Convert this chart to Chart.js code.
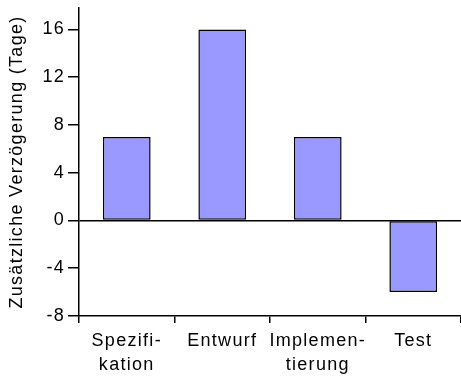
<!DOCTYPE html>
<html>
<head>
<meta charset="utf-8">
<script src="https://cdn.jsdelivr.net/npm/chart.js@4"></script>
<style>
  html, body { margin: 0; padding: 0; background: #fff; }
  canvas { display: block; }
</style>
</head>
<body>
<canvas id="chart" width="461" height="376"></canvas>
<script>
// Data
const phases = [['Spezifi-', 'kation'], 'Entwurf', ['Implemen-', 'tierung'], 'Test']
const delays = [7, 16, 7, -6]
const yMin = -8
const yMax = 17.8
const yStep = 4
const yTitle = 'Zusätzliche Verzögerung (Tage)'

const FONT = { family: '"Liberation Sans", Arial, sans-serif', size: 18 }
const SPACING = '1.3px'

// the reference text is rendered with wide letter spacing
const spacingPlugin = {
  id: 'spacing',
  beforeUpdate(chart) { chart.ctx.letterSpacing = SPACING },
  beforeDraw(chart) { chart.ctx.letterSpacing = SPACING },
}

let ctx = document.getElementById('chart').getContext('2d')

let chart = new Chart(ctx, {
  type: 'bar',
  data: {
    labels: phases,
    datasets: [{
      data: delays,
      backgroundColor: '#9999ff',
      borderColor: '#000',
      borderWidth: 1.5,
      borderSkipped: false,
      barPercentage: 0.5,
      categoryPercentage: 1,
    }],
  },
  options: {
    responsive: false,
    animation: false,
    events: [],
    layout: { padding: 0 },
    plugins: { legend: { display: false }, tooltip: { enabled: false } },
    scales: {
      x: {
        grid: {
          drawOnChartArea: false,
          tickColor: '#000',
          tickLength: 7,
          lineWidth: 1.5,
        },
        border: { color: '#000', width: 1.5 },
        ticks: {
          color: '#000',
          font: { ...FONT, lineHeight: 1.35 },
          maxRotation: 0,
          autoSkip: false,
          padding: 6,
        },
        afterFit(scale) { scale.height = 60 },
      },
      y: {
        min: yMin,
        max: yMax,
        grid: {
          color: (c) => (c.tick && c.tick.value === 0 ? '#000' : 'rgba(0,0,0,0)'),
          tickColor: '#000',
          tickLength: 11,
          lineWidth: 1.5,
        },
        border: { color: '#000', width: 1.5 },
        ticks: {
          stepSize: yStep,
          includeBounds: false,
          color: '#000',
          font: FONT,
          padding: 3,
        },
        title: {
          display: true,
          text: yTitle,
          color: '#000',
          font: FONT,
          padding: { top: 6, bottom: 0 },
        },
        afterFit(scale) {
          scale.width = 79
          scale.paddingTop = 8
          scale.paddingBottom = 0
        },
      },
    },
  },
  plugins: [spacingPlugin],
})
</script>
</body>
</html>
